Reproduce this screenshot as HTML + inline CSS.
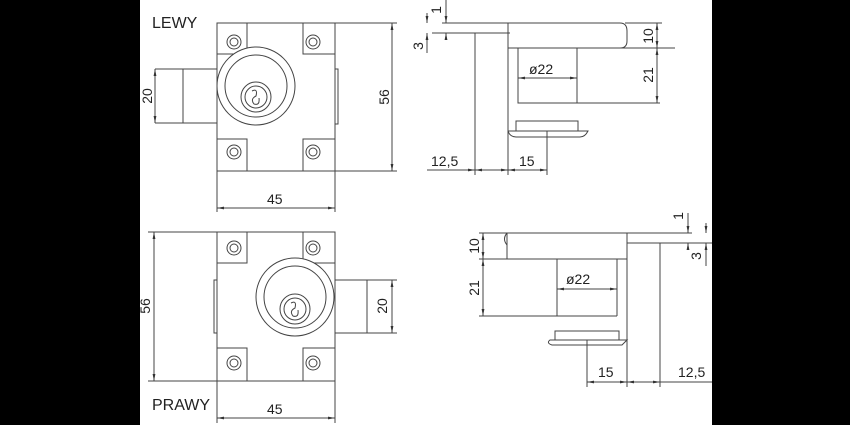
<!DOCTYPE html>
<html><head><style>
html,body{margin:0;padding:0;background:#000;}
svg{display:block}
text{font-family:"Liberation Sans",sans-serif;font-size:14px;fill:#222}
</style></head><body>
<svg width="850" height="425" viewBox="0 0 850 425" xmlns="http://www.w3.org/2000/svg">
<defs>
<marker id="a" viewBox="0 0 10 10" refX="10" refY="5" markerWidth="7" markerHeight="7" orient="auto-start-reverse"><path d="M0,3 L10,5 L0,7 z" fill="#333"/></marker>
</defs>
<rect x="140" y="0" width="572" height="425" fill="#fff"/>
<g fill="none" stroke="#444" stroke-width="1">
<!-- TOP LEFT VIEW -->
<rect x="217" y="23" width="118" height="148"/>
<path d="M247,23V54H217 M303,23V54H335 M217,139H247V171 M335,139H303V171"/>
<circle cx="234" cy="42" r="7"/><circle cx="234" cy="42" r="4"/>
<circle cx="313" cy="42" r="7"/><circle cx="313" cy="42" r="4"/>
<circle cx="234" cy="152" r="7"/><circle cx="234" cy="152" r="4"/>
<circle cx="313" cy="152" r="7"/><circle cx="313" cy="152" r="4"/>
<circle cx="256" cy="86" r="39" fill="#fff"/><circle cx="256" cy="86" r="31"/>
<circle cx="256" cy="97" r="15"/><circle cx="256" cy="97" r="11"/>
<path d="M252,91q6,-3 4,5q-6,3 -2,8q6,2 5,-6" />
<path d="M183,69H217V123H183Z M155,69H183 M155,123H183"/>
<path d="M335,69h3v55h-3"/>
<path d="M335,23H397 M335,171H397 M217,171V212 M335,171V212"/>
<path d="M155,69V123" marker-start="url(#a)" marker-end="url(#a)"/>
<path d="M392,23V171" marker-start="url(#a)" marker-end="url(#a)"/>
<path d="M217,208H335" marker-start="url(#a)" marker-end="url(#a)"/>

<!-- BOTTOM LEFT VIEW -->
<rect x="217" y="232" width="118" height="149"/>
<path d="M247,232V263H217 M303,232V263H335 M217,348H247V381 M335,348H303V381"/>
<circle cx="234" cy="248" r="7"/><circle cx="234" cy="248" r="4"/>
<circle cx="313" cy="248" r="7"/><circle cx="313" cy="248" r="4"/>
<circle cx="234" cy="363" r="7"/><circle cx="234" cy="363" r="4"/>
<circle cx="313" cy="363" r="7"/><circle cx="313" cy="363" r="4"/>
<circle cx="295" cy="297" r="39" fill="#fff"/><circle cx="295" cy="297" r="31"/>
<circle cx="295" cy="309" r="15"/><circle cx="295" cy="309" r="11"/>
<path d="M291,303q6,-3 4,5q-6,3 -2,8q6,2 5,-6"/>
<path d="M335,280H367V333H335 M367,280H397 M367,333H397"/>
<path d="M217,280h-3v53h3"/>
<path d="M148,232H217 M148,381H217 M217,381V423 M335,381V423"/>
<path d="M392,280V333" marker-start="url(#a)" marker-end="url(#a)"/>
<path d="M154,232V381" marker-start="url(#a)" marker-end="url(#a)"/>
<path d="M217,418H335" marker-start="url(#a)" marker-end="url(#a)"/>

<!-- TOP RIGHT VIEW -->
<path d="M442,23H620q7,0 7,8v10q0,7 -7,7H508 M432,33H510"/>
<path d="M475,33V175 M508,23V175 M547,131V175"/>
<path d="M508,48H675 M518,48V103H660 M577,48V103 M625,23H662"/>
<rect x="516" y="121" width="62" height="10"/>
<path d="M508,131H588q-3,6 -8,6H516q-6,0 -8,-6"/>
<path d="M427,170H547"/>
<path d="M475,170H508" marker-start="url(#a)" marker-end="url(#a)"/>
<path d="M427,170H475" marker-end="url(#a)"/>
<path d="M508,170H547" marker-start="url(#a)" marker-end="url(#a)"/>
<path d="M657,23V48" marker-start="url(#a)" marker-end="url(#a)"/>
<path d="M657,48V103" marker-start="url(#a)" marker-end="url(#a)"/>
<path d="M518,78H577" marker-start="url(#a)" marker-end="url(#a)"/>
<path d="M446,0V23" marker-end="url(#a)"/><path d="M446,37V33" marker-end="url(#a)"/>
<path d="M427,13V23" marker-end="url(#a)"/><path d="M427,53V33" marker-end="url(#a)"/>

<!-- BOTTOM RIGHT VIEW -->
<path d="M479,233H692 M479,259H627 M507,233q-5,6 0,12 M507,233V259 M627,233V259"/>
<path d="M627,243H712 M627,233V387 M660,243V387"/>
<path d="M479,316H617 M557,259V316 M617,259V316"/>
<rect x="555" y="331" width="64" height="9"/>
<path d="M627,340H550q-4,3 2,5H622z"/>
<path d="M587,340V387"/>
<path d="M587,382H627" marker-start="url(#a)" marker-end="url(#a)"/>
<path d="M627,382H660" marker-start="url(#a)" marker-end="url(#a)"/>
<path d="M660,382H712"/>
<path d="M483,233V259" marker-start="url(#a)" marker-end="url(#a)"/>
<path d="M483,259V316" marker-start="url(#a)" marker-end="url(#a)"/>
<path d="M557,289H617" marker-start="url(#a)" marker-end="url(#a)"/>
<path d="M688,213V233" marker-end="url(#a)"/><path d="M688,247V243" marker-end="url(#a)"/>
<path d="M706,223V233" marker-end="url(#a)"/><path d="M706,266V243" marker-end="url(#a)"/>
</g>
<g>
<text x="152" y="28" style="font-size:16px">LEWY</text>
<text x="152" y="410" style="font-size:16px">PRAWY</text>
<text x="267" y="204">45</text>
<text x="267" y="414">45</text>
<text transform="translate(152,96) rotate(-90)" text-anchor="middle">20</text>
<text transform="translate(389,97) rotate(-90)" text-anchor="middle">56</text>
<text transform="translate(150,306) rotate(-90)" text-anchor="middle">56</text>
<text transform="translate(387,306) rotate(-90)" text-anchor="middle">20</text>
<text x="431" y="166">12,5</text>
<text x="519" y="166">15</text>
<text x="529" y="74">ø22</text>
<text transform="translate(653,36) rotate(-90)" text-anchor="middle">10</text>
<text transform="translate(653,75) rotate(-90)" text-anchor="middle">21</text>
<text transform="translate(441,10) rotate(-90)" text-anchor="middle">1</text>
<text transform="translate(423,46) rotate(-90)" text-anchor="middle">3</text>
<text x="566" y="284">ø22</text>
<text transform="translate(479,246) rotate(-90)" text-anchor="middle">10</text>
<text transform="translate(479,288) rotate(-90)" text-anchor="middle">21</text>
<text x="598" y="377">15</text>
<text x="678" y="377">12,5</text>
<text transform="translate(683,216) rotate(-90)" text-anchor="middle">1</text>
<text transform="translate(701,256) rotate(-90)" text-anchor="middle">3</text>
</g>
</svg>
</body></html>
